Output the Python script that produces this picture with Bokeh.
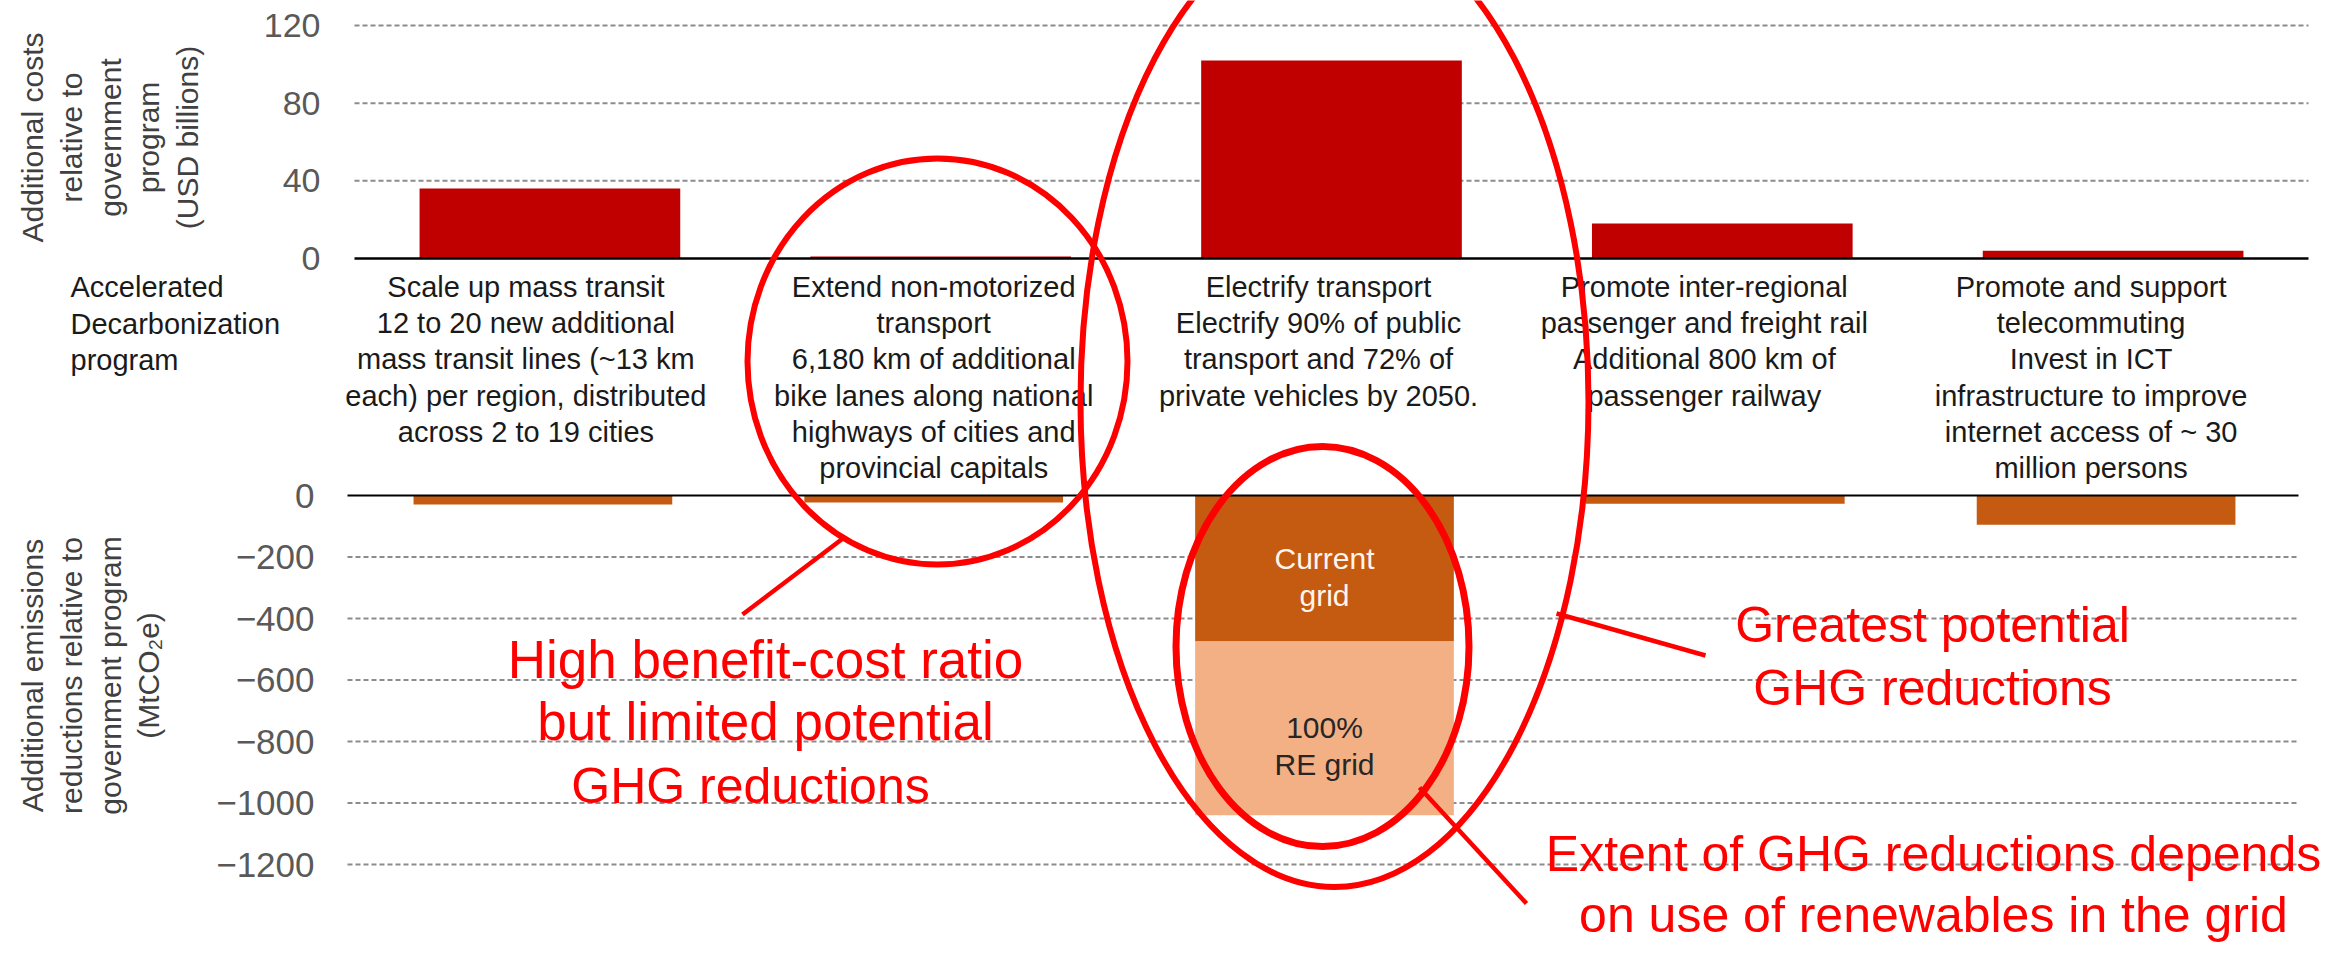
import math
from bokeh.plotting import figure
from bokeh.models import (Range1d, LinearAxis, FixedTicker, ColumnDataSource, Label)
from bokeh.core.properties import value
from bokeh.embed import file_html
from bokeh.resources import INLINE

# ---------------- data ----------------
categories = [
    "Scale up mass transit",
    "Extend non-motorized transport",
    "Electrify transport",
    "Promote inter-regional passenger and freight rail",
    "Promote and support telecommuting",
]
category_lines = [
    ["Scale up mass transit", "12 to 20 new additional", "mass transit lines (~13 km",
     "each) per region, distributed", "across 2 to 19 cities"],
    ["Extend non-motorized", "transport", "6,180 km of additional",
     "bike lanes along national", "highways of cities and", "provincial capitals"],
    ["Electrify transport", "Electrify 90% of public", "transport and 72% of",
     "private vehicles by 2050."],
    ["Promote inter-regional", "passenger and freight rail", "Additional 800 km of",
     "passenger railway"],
    ["Promote and support", "telecommuting", "Invest in ICT", "infrastructure to improve",
     "internet access of ~ 30", "million persons"],
]
cost_usd_bn = [36, 1, 102, 18, 4]                         # additional costs (USD billions)
emissions_current_grid = [-29, -23, -475, -27, -95]       # MtCO2e, current grid
emissions_100pct_re_grid = [-29, -23, -1040, -27, -95]    # MtCO2e, 100% RE grid
cost_ticks = [0, 40, 80, 120]
emission_ticks = [0, -200, -400, -600, -800, -1000, -1200]

# ---------------- layout (pixels from the picture's top-left) ----------------
W, H = 2324, 946
PLOT_LEFT, PLOT_RIGHT = 354, 2308        # extent of the upper chart
EMIS_LEFT, EMIS_RIGHT = 347, 2298        # extent of the lower chart
COST_TOP_PX, COST_ZERO_PX = 25, 258      # pixel rows of 120 and 0
EMIS_ZERO_PX, EMIS_MIN_PX = 495, 864     # pixel rows of 0 and -1200
TEXT_SHIFT_PX = [-24, -7, -13, -18, -22] # description columns sit left of the bars
BASE_FIX = 0.36                          # em: raise alphabetic-baseline texts
FONT = "Liberation Sans, Arial, sans-serif"
BAND = (PLOT_RIGHT - PLOT_LEFT) / len(categories)


def sx(px):
    """pixel column -> category units (category i spans i..i+1)"""
    return (px - PLOT_LEFT) / BAND


def make_range(v_hi, px_hi, v_lo, px_lo):
    k = (v_hi - v_lo) / (px_lo - px_hi)
    return Range1d(start=v_lo - (H - px_lo) * k, end=v_hi + px_hi * k)


cost_range = make_range(max(cost_ticks), COST_TOP_PX, 0, COST_ZERO_PX)
emis_range = make_range(0, EMIS_ZERO_PX, min(emission_ticks), EMIS_MIN_PX)

x_pos = [i + 0.5 for i in range(len(categories))]          # category centres
emis_shift = sx(EMIS_LEFT) - sx(PLOT_LEFT)                 # lower chart sits a bit left
x_pos_emis = [x + emis_shift for x in x_pos]

p = figure(width=W, height=H, x_range=Range1d(sx(0), sx(W)), y_range=Range1d(H, 0),
           x_axis_location=None, y_axis_location=None, toolbar_location=None,
           output_backend="svg", min_border_left=0, min_border_right=0,
           min_border_top=0, min_border_bottom=0,
           outline_line_color=None, background_fill_color="white", border_fill_color="white")
p.xgrid.visible = False
p.ygrid.visible = False
p.extra_y_ranges = {"cost": cost_range, "emis": emis_range}

# ---------------- axes ----------------
cost_axis = LinearAxis(y_range_name="cost", ticker=FixedTicker(ticks=cost_ticks, minor_ticks=[]),
                       fixed_location=0, axis_line_color=None, major_tick_line_color=None,
                       minor_tick_line_color=None, major_tick_in=0, major_tick_out=0,
                       major_label_standoff=34, major_label_text_font=FONT,
                       major_label_text_font_size="34px", major_label_text_color="#595959")
emis_axis = LinearAxis(y_range_name="emis",
                       ticker=FixedTicker(ticks=emission_ticks, minor_ticks=[]),
                       fixed_location=emis_shift, axis_line_color=None,
                       major_tick_line_color=None, minor_tick_line_color=None,
                       major_tick_in=0, major_tick_out=0, major_label_standoff=33,
                       major_label_text_font=FONT, major_label_text_font_size="35px",
                       major_label_text_color="#595959")
p.add_layout(cost_axis, "left")
p.add_layout(emis_axis, "left")

# ---------------- grid lines and zero lines ----------------
cg = [t for t in cost_ticks if t != 0]
p.segment(x0=[sx(PLOT_LEFT)] * len(cg), x1=[sx(PLOT_RIGHT)] * len(cg), y0=cg, y1=cg,
          y_range_name="cost", line_color="#8c8c8c", line_width=2, line_dash="5 3",
          level="underlay")
eg = [t for t in emission_ticks if t != 0]
p.segment(x0=[sx(EMIS_LEFT)] * len(eg), x1=[sx(EMIS_RIGHT)] * len(eg), y0=eg, y1=eg,
          y_range_name="emis", line_color="#8c8c8c", line_width=2, line_dash="5 3",
          level="underlay")

# ---------------- bars ----------------
p.vbar(x=x_pos, top=cost_usd_bn, bottom=0, width=0.667, y_range_name="cost",
       fill_color="#C00000", line_color=None)

emis_src = ColumnDataSource(dict(
    x=x_pos_emis,
    current=emissions_current_grid,
    extra=[t - c for t, c in zip(emissions_100pct_re_grid, emissions_current_grid)],
))
p.vbar_stack(["current", "extra"], x="x", width=0.662, source=emis_src,
             fill_color=["#C55A11", "#F3B085"], line_color=None, y_range_name="emis")

p.segment(x0=[sx(PLOT_LEFT)], x1=[sx(PLOT_RIGHT)], y0=[0], y1=[0], y_range_name="cost",
          line_color="black", line_width=2.5)
p.segment(x0=[sx(EMIS_LEFT)], x1=[sx(EMIS_RIGHT)], y0=[0], y1=[0], y_range_name="emis",
          line_color="black", line_width=2)

# labels inside the electrify emission bar
ie = categories.index("Electrify transport")
mid_cur = emissions_current_grid[ie] / 2
mid_re = (emissions_current_grid[ie] + emissions_100pct_re_grid[ie]) / 2
p.text(x=[x_pos_emis[ie]] * 4, y=[mid_cur, mid_cur, mid_re, mid_re],
       text=["Current", "grid", "100%", "RE grid"], y_offset=[-10, 27, -1, 36],
       y_range_name="emis", text_align="center", text_baseline="alphabetic",
       text_font=value(FONT), text_font_size="30px",
       text_color=["#FFF5EC", "#FFF5EC", "#262626", "#262626"])

# category descriptions
cx, cy, ct = [], [], []
for xc, shift, lines in zip(x_pos, TEXT_SHIFT_PX, category_lines):
    for k, line in enumerate(lines):
        cx.append(xc + shift / BAND)
        cy.append(297 - BASE_FIX * 29 + 36.2 * k)
        ct.append(line)
p.text(x=cx, y=cy, text=ct, text_align="center", text_baseline="alphabetic",
       text_font=value(FONT), text_font_size="29px", text_color="#1a1a1a")

# ---------------- left side texts ----------------
for k, line in enumerate(["Accelerated", "Decarbonization", "program"]):
    p.add_layout(Label(x=sx(70), y=297 - BASE_FIX * 29 + 36.5 * k, text=line,
                       text_align="left", text_baseline="alphabetic",
                       text_font=FONT, text_font_size="29px", text_color="#1a1a1a"))

for k, line in enumerate(["Additional costs", "relative to", "government", "program",
                          "(USD billions)"]):
    p.add_layout(Label(x=sx(32 + 38.8 * k), y=137, text=line,
                       angle=math.pi / 2, text_align="center", text_baseline="middle",
                       text_font=FONT, text_font_size="30px", text_color="#404040"))

for k, line in enumerate(["Additional emissions", "reductions relative to",
                          "government program", "(MtCO\u2082e)"]):
    p.add_layout(Label(x=sx(32 + 38.8 * k), y=675, text=line,
                       angle=math.pi / 2, text_align="center", text_baseline="middle",
                       text_font=FONT, text_font_size="30px", text_color="#404040"))

# ---------------- red call-outs ----------------
ell_x, ell_y, ell_w, ell_h = [937, 1334, 1322], [361, 401, 646], [380, 508, 293], [406, 971, 400]
ell = ColumnDataSource(dict(x=[sx(v) for v in ell_x], y=ell_y,
                            w=[v / BAND for v in ell_w], h=ell_h, lw=[6, 6, 7]))
p.ellipse(x="x", y="y", width="w", height="h", source=ell,
          fill_color=None, line_color="#FF0000", line_width="lw")
seg_x0, seg_y0, seg_x1, seg_y1 = [742, 1556, 1419], [614, 613, 787], [845, 1705, 1526], [536, 655, 903]
p.segment(x0=[sx(v) for v in seg_x0], y0=seg_y0, x1=[sx(v) for v in seg_x1], y1=seg_y1,
          line_color="#FF0000", line_width=4.5)

callouts = [
    (765, 678, "High benefit-cost ratio", 53),
    (765, 740, "but limited potential", 53),
    (750, 803, "GHG reductions", 50),
    (1932, 642, "Greatest potential", 50),
    (1932, 705, "GHG reductions", 50),
    (1933, 871, "Extent of GHG reductions depends", 50),
    (1933, 932, "on use of renewables in the grid", 50),
]
for x, y, t, fs in callouts:
    p.add_layout(Label(x=sx(x), y=y - BASE_FIX * fs, text=t, text_align="center",
                       text_baseline="alphabetic", text_font=FONT, text_font_size=f"{fs}px",
                       text_color="#FF0000"))

open("out.html", "w").write(file_html(p, INLINE))
